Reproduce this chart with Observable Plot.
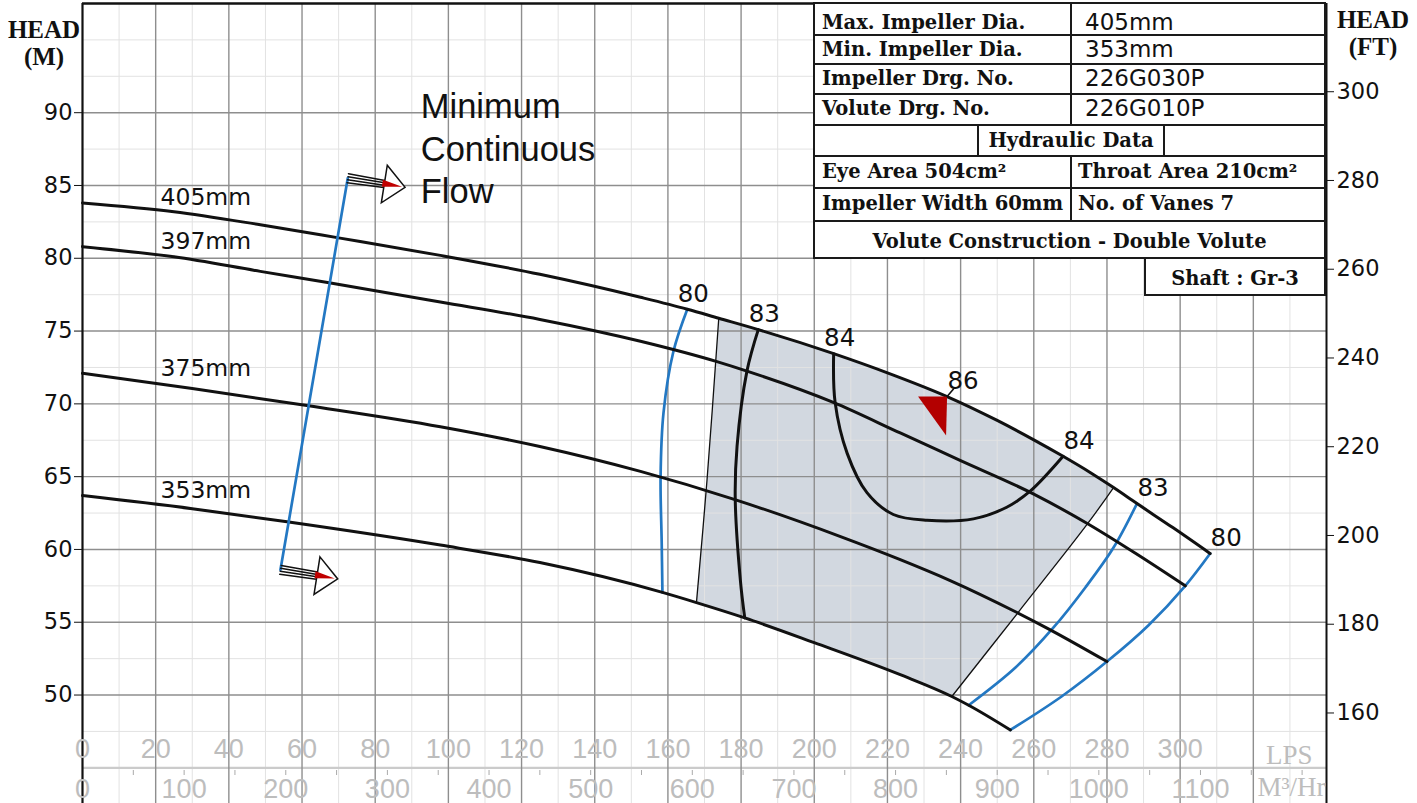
<!DOCTYPE html>
<html><head><meta charset="utf-8">
<script src="https://cdn.jsdelivr.net/npm/d3@7"></script>
<script src="https://cdn.jsdelivr.net/npm/@observablehq/plot@0.6"></script>
<style>
html,body{margin:0;padding:0;background:#fff;}
#wrap{position:relative;width:1417px;height:803px;overflow:hidden;background:#fff;}
#wrap svg{display:block;}
#overlay{position:absolute;left:0;top:0;pointer-events:none;}
</style></head><body><div id="wrap"></div>
<script>
// ---------- DATA (Q in LPS, H in metres) ----------
const curve405 = [[0,83.8],[25,83.2],[48.6,82.3],[70,81.4],[97.8,80.2],[125,78.9],[152.5,77.32],[165.3,76.5],[173.9,75.88],[184.7,75.1],[205.3,73.45],[220,72.13],[236.3,70.5],[250,68.86],[260,67.53],[268,66.4],[275.4,65.29],[281.8,64.25],[288.2,63.15],[298,61.5],[308.2,59.72]];
const curve397 = [[0,80.8],[25,80.1],[48.6,79.1],[67.8,78.3],[97.8,77.0],[125,75.8],[152.5,74.3],[173.4,72.9],[181.6,72.25],[205.2,70.1],[223.5,68.0],[240,66.1],[260,63.8],[274.5,61.8],[288,59.7],[301.4,57.5]];
const curve375 = [[0,72.1],[30,71.05],[61.8,69.87],[97.8,68.43],[125,67.07],[152.5,65.36],[177.9,63.46],[207,60.9],[223.5,59.3],[237,57.88],[255,55.72],[263.6,54.6],[280,52.3]];
const curve353 = [[0,63.7],[30,62.8],[55.9,61.9],[97.8,60.3],[125,59.1],[158.5,57.05],[167.8,56.35],[181,55.3],[200,53.6],[223.5,51.4],[237.6,49.9],[242.2,49.3],[253.6,47.6]];
const diameters = ["405mm","397mm","375mm","353mm"];

const eff80Left  = [[165.3,76.5],[161.5,73.6],[158.8,69.4],[158,65.0],[158.3,60.5],[158.5,57.05]];
const eff83Left  = [[184.7,75.1],[181.6,72.25],[178.9,67.1],[178.4,63.5],[179.8,57.9],[181,55.3]];
const eff84      = [[205.3,73.45],[205.7,70.1],[209,66.6],[214.4,63.9],[221.6,62.4],[230.8,62.0],[243.5,62.1],[252.6,62.9],[259,64.0],[268,66.4]];
const eff83Right = [[288.2,63.15],[281.8,60.13],[274.1,57.39],[265.4,54.64],[255.0,51.89],[242.2,49.3]];
const eff80Right = [[308.2,59.72],[301.4,57.5],[291.3,54.78],[280,52.3],[267.6,49.9],[253.6,47.6]];
const regionLeft  = [[173.9,75.88],[170.7,64.8],[167.8,56.35]];
const regionRight = [[281.8,64.25],[274.5,61.7],[255.8,55.7],[237.6,49.9]];
const minFlow = [[72.5,85.5],[54.1,58.6]];
const bep = [[236.3,70.5]];
const effLeftLabels  = ["80","83","84"];
const effRightLabels = ["86","84","83","80"];
const minFlowText = "Minimum\nContinuous\nFlow";

const lpsTicks = [0,20,40,60,80,100,120,140,160,180,200,220,240,260,280,300];
const m3Ticks = [0,100,200,300,400,500,600,700,800,900,1000,1100];
const m3MinorTicks = [50,100,150,200,250,300,350,400,450,500,550,600,650,700,750,800,850,900,950,1000,1050,1100,1150,1200];
const headMTicks = [50,55,60,65,70,75,80,85,90];
const headFtTicks = [160,180,200,220,240,260,280,300];
const gridMajorX = [20,40,60,80,100,120,140,160,180,200,220,240,260,280,300,320];
const gridMinorX = [10,30,50,70,90,110,130,150,170,190,210,230,250,270,290,310,330];
const gridMajorY = [50,55,60,65,70,75,80,85,90];
const gridMinorY = [47.5,52.5,57.5,62.5,67.5,72.5,77.5,82.5,87.5,92.5,95];
const baseLineY = [45];
const xDomain = [0,340];
const yDomain = [42.55,97.5];

const tableRows = [["Max. Impeller Dia.","405mm"],["Min. Impeller Dia.","353mm"],["Impeller Drg. No.","226G030P"],["Volute Drg. No.","226G010P"]];
const hydraulicTitle = "Hydraulic Data";
const hydraulicRows = [["Eye Area 504cm\u00B2","Throat Area 210cm\u00B2"],["Impeller Width 60mm","No. of Vanes 7"]];
const constructionNote = "Volute Construction - Double Volute";
const shaftNote = "Shaft : Gr-3";
const headLeft = ["HEAD","(M)"];
const headRight = ["HEAD","(FT)"];
const unitLPS = "LPS";
const unitM3 = "M\u00B3/Hr";
const M_TO_FT = 3.28084, LPS_TO_M3H = 3.6;

// ---------- derived ----------
const operatingRegion = [
  ...regionLeft,
  ...curve353.filter(d => d[0] > regionLeft[2][0] && d[0] < regionRight[3][0]),
  ...regionRight.slice().reverse(),
  ...curve405.filter(d => d[0] > regionLeft[0][0] && d[0] < regionRight[0][0]).reverse()
];
const Q = d => d[0], H = d => d[1];
const blue = "#2378c3", ink = "#111";
const curves = [curve405, curve397, curve375, curve353];
const diaLabels = diameters.map((t,i) => ({t, p: curves[i][0]}));
const leftLab = [eff80Left[0], eff83Left[0], eff84[0]].map((p,i) => ({t: effLeftLabels[i], p}));
const rightLab = [bep[0], eff84[eff84.length-1], eff83Right[0], eff80Right[0]].map((p,i) => ({t: effRightLabels[i], p}));

const arrowShape = {draw(c, l) {
  const h = 21, w = 19, b = l - h;
  for (const o of [-4.5,-1.5,1.5,4.5]) { c.moveTo(o, 0); c.lineTo(o*0.8, -b); }
  c.moveTo(-w, -b); c.lineTo(0, -l); c.lineTo(w, -b); c.closePath();
}};
const arrowRed = {draw(c, l) { const b = l - 23; c.moveTo(-4, -b); c.lineTo(0, -l + 3); c.lineTo(3, -b); c.closePath(); }};
const bepSymbol = {draw(c) { c.moveTo(-29, 0); c.lineTo(0, 0); c.lineTo(-1, 39); c.closePath(); }};
const stickShape = {draw(c, l) { c.moveTo(0, 0); c.lineTo(0, -l); }};

const plot = Plot.plot({
  width: 1417, height: 803,
  marginLeft: 82, marginRight: 91, marginTop: 3, marginBottom: 0,
  x: {domain: xDomain}, y: {domain: yDomain},
  style: {fontFamily: "DejaVu Sans", background: "#fff", overflow: "visible", color: ink},
  marks: [
    Plot.line(operatingRegion, {x: Q, y: H, fill: "#d2d8e0", stroke: "none"}),
    Plot.gridX(gridMinorX, {stroke: "#e2e2e2", strokeOpacity: 1, strokeWidth: 1}),
    Plot.gridY(gridMinorY, {stroke: "#e2e2e2", strokeOpacity: 1, strokeWidth: 1}),
    Plot.gridY(baseLineY, {stroke: "#cbcbcb", strokeOpacity: 1, strokeWidth: 2.2}),
    Plot.gridX(gridMajorX, {stroke: "#8e8e8e", strokeOpacity: 1, strokeWidth: 1.4}),
    Plot.gridY(gridMajorY, {stroke: "#8e8e8e", strokeOpacity: 1, strokeWidth: 1.4}),
    Plot.ruleX([xDomain[0]], {stroke: ink, strokeWidth: 2.2}),
    Plot.ruleX([xDomain[1]], {stroke: ink, strokeWidth: 2}),
    Plot.ruleY([yDomain[1]], {stroke: ink, strokeWidth: 2.5}),
    Plot.axisY(headMTicks, {anchor: "left", tickSize: 8, tickPadding: 2, fontSize: 22.5, fontFamily: "DejaVu Sans", fill: ink, stroke: ink, label: null}),
    Plot.axisY(headFtTicks.map(f => f / M_TO_FT), {anchor: "right", tickSize: 7, tickPadding: 3, tickFormat: d => String(Math.round(d * M_TO_FT)), fontSize: 22.5, fontFamily: "DejaVu Sans", fill: ink, stroke: ink, label: null}),
    Plot.axisX(lpsTicks, {anchor: "bottom", tickSize: 0, tickPadding: 0, dy: -65, tickFormat: d => String(d), fontSize: 27, fontFamily: "Liberation Sans", fill: "#bdbdbd", label: null}),
    Plot.axisX(m3Ticks.map(v => v / LPS_TO_M3H), {anchor: "bottom", tickSize: 0, tickPadding: 0, dy: -25, tickFormat: d => String(Math.round(d * LPS_TO_M3H)), fontSize: 27, fontFamily: "Liberation Sans", fill: "#bdbdbd", label: null}),
    Plot.axisX(m3MinorTicks.map(v => v / LPS_TO_M3H), {anchor: "bottom", tickSize: 5, tickPadding: 0, dy: -33, tickFormat: () => "", stroke: "#aaa", label: null}),
    Plot.text([unitLPS], {text: d => d, frameAnchor: "bottom-right", textAnchor: "end", lineAnchor: "middle", dx: -14, dy: -48, fontSize: 27, fontFamily: "Liberation Serif", fill: "#bdbdbd"}),
    Plot.text([unitM3], {text: d => d, frameAnchor: "bottom-right", textAnchor: "end", lineAnchor: "middle", dx: -1, dy: -16, fontSize: 27, fontFamily: "Liberation Serif", fill: "#bdbdbd"}),
    // boundaries of operating region
    Plot.line(regionLeft, {x: Q, y: H, stroke: ink, strokeWidth: 1.3, curve: "catmull-rom"}),
    Plot.line(regionRight, {x: Q, y: H, stroke: ink, strokeWidth: 1.3, curve: "catmull-rom"}),
    // efficiency curves
    Plot.line(eff80Left, {x: Q, y: H, stroke: blue, strokeWidth: 2.7, curve: "catmull-rom"}),
    Plot.line(eff83Right, {x: Q, y: H, stroke: blue, strokeWidth: 2.7, curve: "catmull-rom"}),
    Plot.line(eff80Right, {x: Q, y: H, stroke: blue, strokeWidth: 2.7, curve: "catmull-rom"}),
    Plot.line(eff83Left, {x: Q, y: H, stroke: ink, strokeWidth: 3, curve: "catmull-rom"}),
    Plot.line(eff84, {x: Q, y: H, stroke: ink, strokeWidth: 3, curve: "catmull-rom"}),
    // head curves
    ...curves.map(c => Plot.line(c, {x: Q, y: H, stroke: ink, strokeWidth: 3, curve: "monotone-x"})),
    // min flow
    Plot.line(minFlow, {x: Q, y: H, stroke: blue, strokeWidth: 2.7}),
    Plot.vector(minFlow, {x: Q, y: H, anchor: "start", length: 58, rotate: 99, shape: arrowShape, stroke: ink, strokeWidth: 1.5, fill: "#fff", strokeLinejoin: "miter"}),
    Plot.vector(minFlow, {x: Q, y: H, anchor: "start", length: 58, rotate: 99, shape: arrowRed, stroke: "none", fill: "#c00000"}),
    Plot.text([minFlow[0]], {x: Q, y: H, text: () => minFlowText, textAnchor: "start", lineAnchor: "bottom", lineHeight: 1.23, dx: 73, dy: 25, fontSize: 34.5, fontFamily: "Liberation Sans", fill: ink}),
    // BEP
    Plot.dot(bep, {x: Q, y: H, symbol: bepSymbol, r: 5, fill: "#b30000", stroke: "none"}),
    Plot.vector(bep, {x: Q, y: H, anchor: "start", length: 10, rotate: 40, shape: stickShape, stroke: ink, strokeWidth: 1.6}),
    // labels
    Plot.text(diaLabels, {x: d => d.p[0], y: d => d.p[1], text: "t", textAnchor: "start", dx: 78, dy: -5, fontSize: 23.5, fontFamily: "DejaVu Sans", fill: ink}),
    Plot.text(leftLab, {x: d => d.p[0], y: d => d.p[1], text: "t", dx: 6, dy: -15, fontSize: 24.5, fontFamily: "DejaVu Sans", fill: ink}),
    Plot.text(rightLab, {x: d => d.p[0], y: d => d.p[1], text: "t", dx: 16, dy: -15, fontSize: 24.5, fontFamily: "DejaVu Sans", fill: ink})
  ]
});
const wrap = document.getElementById("wrap");
wrap.appendChild(plot);

// ---------- overlay: axis titles + data table ----------
const ov = d3.select(wrap).append("svg").attr("id", "overlay").attr("width", 1417).attr("height", 803);
[[44, headLeft, [38, 65]], [1373, headRight, [28, 55]]].forEach(([cx, lines, ys]) => {
  lines.forEach((t, i) => ov.append("text").attr("x", cx).attr("y", ys[i]).attr("text-anchor", "middle")
    .attr("font-family", "Liberation Serif").attr("font-weight", "bold").attr("font-size", 25).attr("fill", ink).text(t));
});
const tx0 = 814, tx1 = 1325, tmid = 1071;
const rowY = [3, 35, 64, 94, 125, 156, 188, 221, 258];
const centers = [22, 49, 78, 108, 140, 171, 203, 241];
const tbl = ov.append("g");
const lineStyle = s => s.attr("stroke", "#1a1a1a").attr("stroke-width", 2);
tbl.append("rect").attr("x", tx0).attr("y", rowY[0]).attr("width", tx1 - tx0).attr("height", rowY[8] - rowY[0]).attr("fill", "#fff").call(lineStyle);
rowY.slice(1, 8).forEach(y => tbl.append("line").attr("x1", tx0).attr("x2", tx1).attr("y1", y).attr("y2", y).call(lineStyle));
tbl.append("line").attr("x1", tmid).attr("x2", tmid).attr("y1", rowY[0]).attr("y2", rowY[4]).call(lineStyle);
tbl.append("line").attr("x1", tmid).attr("x2", tmid).attr("y1", rowY[5]).attr("y2", rowY[7]).call(lineStyle);
[978, 1164].forEach(x => tbl.append("line").attr("x1", x).attr("x2", x).attr("y1", rowY[4]).attr("y2", rowY[5]).call(lineStyle));
tbl.append("rect").attr("x", 1145).attr("y", rowY[8]).attr("width", tx1 - 1145).attr("height", 37).attr("fill", "#fff").call(lineStyle);
const serifText = (x, y, t, anchor = "start") => tbl.append("text").attr("x", x).attr("y", y).attr("text-anchor", anchor)
  .attr("font-family", "DejaVu Serif").attr("font-weight", "bold").attr("font-size", 19.5).attr("fill", ink).text(t);
const sansText = (x, y, t) => tbl.append("text").attr("x", x).attr("y", y)
  .attr("font-family", "DejaVu Sans").attr("font-size", 23).attr("fill", ink).text(t);
tableRows.forEach(([k, v], i) => { serifText(822, centers[i] + 7, k); sansText(1085, centers[i] + 8.4, v); });
serifText(1071, centers[4] + 7, hydraulicTitle, "middle");
hydraulicRows.forEach(([a, b], i) => { serifText(822, centers[5 + i] + 7, a); serifText(1078, centers[5 + i] + 7, b); });
serifText((tx0 + tx1) / 2, centers[7] + 7, constructionNote, "middle");
serifText((1145 + tx1) / 2, 278 + 7, shaftNote, "middle");
</script></body></html>
